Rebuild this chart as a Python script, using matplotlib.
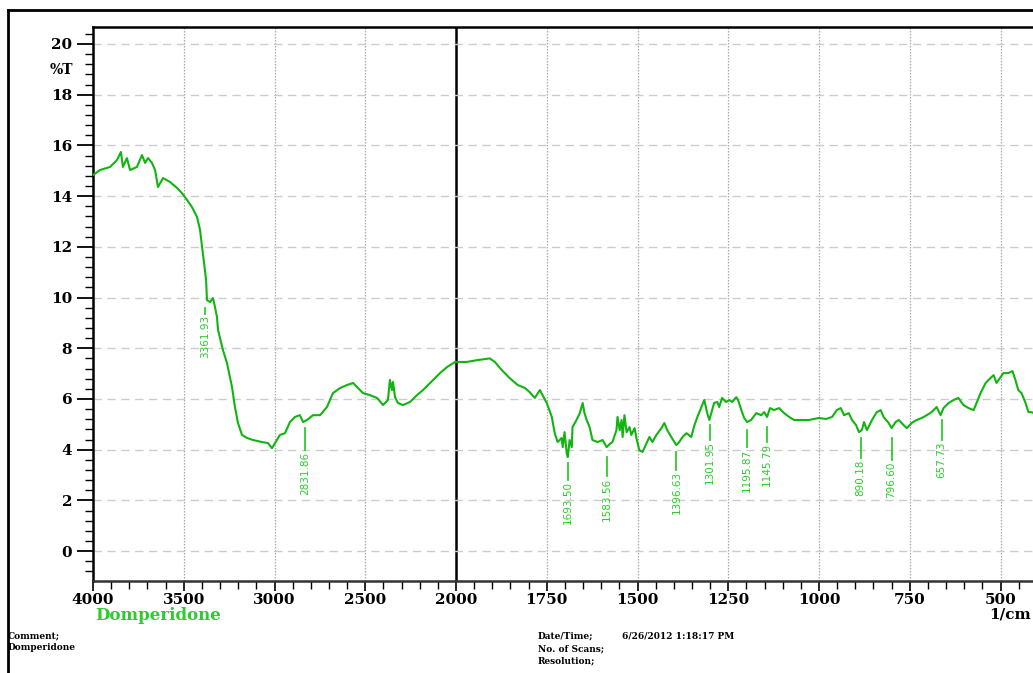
import numpy as np
import matplotlib
matplotlib.use("Agg")
import matplotlib.pyplot as plt
from matplotlib.ticker import FixedLocator, MultipleLocator
from matplotlib.lines import Line2D

# Spectrum (wavenumber 1/cm, %T)
wavenumber = [4000, 3961, 3906, 3868, 3846, 3835, 3813, 3796, 3758, 3730, 3713, 3697,
              3675, 3658, 3642, 3614, 3576, 3537, 3510, 3482, 3455, 3427, 3410, 3399,
              3388, 3377, 3372, 3355, 3339, 3328, 3317, 3311, 3284, 3262, 3234, 3218,
              3201, 3179, 3151, 3118, 3069, 3036, 3014, 2997, 2970, 2942, 2915, 2887,
              2860, 2843, 2821, 2788, 2749, 2711, 2678, 2639, 2600, 2567, 2540, 2512,
              2474, 2435, 2402, 2375, 2364, 2353, 2347, 2336, 2320, 2292, 2253, 2215,
              2182, 2143, 2088, 2049, 2005, 1970, 1942, 1907, 1893, 1874, 1852, 1830,
              1810, 1797, 1783, 1769, 1750, 1736, 1728, 1720, 1709, 1706, 1701, 1695,
              1692, 1687, 1681, 1679, 1668, 1659, 1651, 1646, 1640, 1632, 1624, 1610,
              1596, 1585, 1577, 1569, 1558, 1555, 1549, 1544, 1541, 1536, 1530, 1522,
              1517, 1508, 1503, 1495, 1486, 1475, 1467, 1459, 1448, 1434, 1426, 1418,
              1407, 1393, 1385, 1376, 1365, 1352, 1343, 1335, 1324, 1316, 1308, 1302,
              1289, 1280, 1275, 1267, 1256, 1247, 1239, 1228, 1223, 1214, 1206, 1198,
              1187, 1173, 1159, 1151, 1143, 1135, 1124, 1110, 1096, 1082, 1069, 1055,
              1028, 1000, 981, 964, 951, 940, 931, 918, 909, 898, 890, 882, 876, 868,
              854, 841, 830, 822, 808, 800, 789, 780, 767, 758, 745, 731, 717, 703,
              690, 676, 665, 657, 643, 629, 616, 602, 588, 574, 566, 555, 541, 528,
              519, 511, 500, 492, 478, 467, 459, 451, 442, 431, 423, 415, 400]
transmittance = [14.83, 15.03, 15.15, 15.42, 15.74, 15.15, 15.50, 15.03, 15.15, 15.62, 15.31, 15.50,
                 15.31, 15.03, 14.36, 14.71, 14.56, 14.32, 14.12, 13.85, 13.57, 13.18, 12.66, 11.99,
                 11.36, 10.69, 9.90, 9.82, 9.98, 9.63, 9.23, 8.72, 7.93, 7.42, 6.47, 5.68,
                 5.05, 4.58, 4.46, 4.38, 4.30, 4.26, 4.06, 4.26, 4.58, 4.65, 5.09, 5.29,
                 5.36, 5.09, 5.17, 5.36, 5.36, 5.68, 6.23, 6.43, 6.55, 6.63, 6.43, 6.23,
                 6.15, 6.04, 5.76, 5.96, 6.75, 6.35, 6.67, 6.07, 5.84, 5.76, 5.88, 6.15,
                 6.35, 6.63, 7.02, 7.26, 7.46, 7.46, 7.53, 7.60, 7.46, 7.14, 6.82, 6.55,
                 6.43, 6.27, 6.04, 6.35, 5.84, 5.29, 4.65, 4.30, 4.46, 4.10, 4.69, 3.87,
                 3.71, 4.38, 4.10, 4.89, 5.17, 5.44, 5.84, 5.44, 5.17, 4.89, 4.38, 4.30,
                 4.38, 4.10, 4.22, 4.30, 4.77, 5.29, 4.77, 5.17, 4.50, 5.36, 4.69, 4.89,
                 4.58, 4.85, 4.46, 3.98, 3.91, 4.26, 4.50, 4.30, 4.58, 4.85, 5.05, 4.77,
                 4.50, 4.18, 4.30, 4.50, 4.65, 4.50, 4.97, 5.29, 5.68, 5.96, 5.44, 5.17,
                 5.84, 5.88, 5.68, 6.04, 5.88, 5.96, 5.88, 6.07, 5.96, 5.56, 5.25, 5.09,
                 5.17, 5.44, 5.36, 5.48, 5.29, 5.64, 5.56, 5.64, 5.44, 5.29, 5.17, 5.17,
                 5.17, 5.25, 5.21, 5.29, 5.56, 5.64, 5.36, 5.44, 5.17, 4.97, 4.69, 4.77, 5.09, 4.77,
                 5.17, 5.48, 5.56, 5.29, 5.05, 4.85, 5.09, 5.17, 4.97, 4.85, 5.05, 5.17, 5.25, 5.36,
                 5.48, 5.68, 5.36, 5.64, 5.84, 5.96, 6.04, 5.76, 5.64, 5.56, 5.84, 6.23, 6.63, 6.82,
                 6.94, 6.63, 6.86, 7.02, 7.02, 7.10, 6.75, 6.35, 6.23, 5.84, 5.48, 5.48, 5.40]

# Peak picks
peak_wn = [3383, 2832, 1692, 1585, 1393, 1300, 1198, 1143, 885, 800, 662]
peak_text = ["3361.93", "2831.86", "1693.50", "1583.56", "1396.63", "1301.95",
             "1195.87", "1145.79", "890.18", "796.60", "657.73"]
peak_line_top = [9.60, 4.85, 3.47, 3.70, 3.90, 4.97, 4.77, 4.89, 4.46, 4.46, 5.17]
peak_line_bot = [9.35, 3.98, 2.80, 2.95, 3.20, 4.38, 4.10, 4.30, 3.67, 3.59, 4.38]

x_major = [4000, 3500, 3000, 2500, 2000, 1750, 1500, 1250, 1000, 750, 500]
y_major = list(range(0, 21, 2))

GREEN = "#11b411"
LABEL_GREEN = "#2ccc2c"
SERIF = "DejaVu Serif"


def fwd(x):
    x = np.asarray(x, dtype=float)
    return np.where(x >= 2000, x, 2 * x - 2000)


def inv(u):
    u = np.asarray(u, dtype=float)
    return np.where(u >= 2000, u, (u + 2000) / 2)


W, H = 1033, 673
fig = plt.figure(figsize=(W / 100, H / 100), dpi=100)
ax = fig.add_axes([93 / W, 1 - 581 / H, 943.8 / W, (581 - 27) / H])
ax.set_xscale("function", functions=(fwd, inv))
ax.set_xlim(4000, 400)
ax.set_ylim(-1.18, 20.67)

# grid
for xv in x_major[1:]:
    if xv == 2000:
        ax.axvline(xv, color="black", lw=1.8, zorder=1)
    else:
        ax.axvline(xv, color="#a8a8a8", lw=0.9, ls=(0, (1.2, 1.2)), zorder=1)
for yv in y_major:
    ax.axhline(yv, color="#cccccc", lw=1.0, ls=(0, (6, 4)), zorder=1)

ax.plot(wavenumber, transmittance, color=GREEN, lw=1.5, zorder=3)

for wn, t, top, bot in zip(peak_wn, peak_text, peak_line_top, peak_line_bot):
    ax.plot([wn, wn], [top, bot], color=LABEL_GREEN, lw=1.3, zorder=3)
    ax.text(wn, bot - 0.05, t, rotation=90, ha="center", va="top",
            fontsize=7.5, color=LABEL_GREEN, family="DejaVu Sans", zorder=3)

# axes styling
ax.xaxis.set_major_locator(FixedLocator(x_major))
minor_x = list(range(4000, 2000, -100)) + list(range(2000, 399, -50))
ax.xaxis.set_minor_locator(FixedLocator(minor_x))
ax.set_xticklabels([str(v) for v in x_major])
ax.yaxis.set_major_locator(FixedLocator(y_major))
ax.yaxis.set_minor_locator(MultipleLocator(0.4))
ax.set_yticklabels([str(v) for v in y_major])

ax.tick_params(axis="x", which="major", direction="out", length=7, width=1.2, pad=2)
ax.tick_params(axis="x", which="minor", direction="out", length=6, width=1.0)
ax.tick_params(axis="y", which="major", direction="out", length=11.5, width=1.3, pad=3.5)
ax.tick_params(axis="y", which="minor", direction="out", length=6, width=1.0)
for lab in ax.get_xticklabels() + ax.get_yticklabels():
    lab.set_family(SERIF)
    lab.set_fontweight("bold")
    lab.set_fontsize(11)

for side in ["left", "top", "bottom"]:
    ax.spines[side].set_linewidth(1.8)
ax.spines["bottom"].set_color("#333333")
ax.spines["right"].set_visible(False)

# texts around the plot
def ft(px, py, s, **kw):
    fig.text(px / W, 1 - py / H, s, family=SERIF, fontweight="bold", **kw)

ft(73, 70, "%T", fontsize=10, ha="right", va="center")
ft(95, 615, "Domperidone", fontsize=12, color=LABEL_GREEN, ha="left", va="center")
ft(1031, 614, "1/cm", fontsize=11, ha="right", va="center")
ft(8, 636, "Comment;", fontsize=6.5, ha="left", va="center")
ft(8, 648, "Domperidone", fontsize=6.5, ha="left", va="center")
ft(538, 636, "Date/Time;", fontsize=6.5, ha="left", va="center")
ft(622, 636, "6/26/2012 1:18:17 PM", fontsize=6.5, ha="left", va="center")
ft(538, 649, "No. of Scans;", fontsize=6.5, ha="left", va="center")
ft(538, 661, "Resolution;", fontsize=6.5, ha="left", va="center")

# outer frame
fig.add_artist(Line2D([8 / W, 8 / W], [0, 1 - 10 / H], color="black", lw=2,
                      transform=fig.transFigure))
fig.add_artist(Line2D([8 / W, 1], [1 - 10 / H, 1 - 10 / H], color="black", lw=2,
                      transform=fig.transFigure))

fig.savefig("out.png", dpi=100)
